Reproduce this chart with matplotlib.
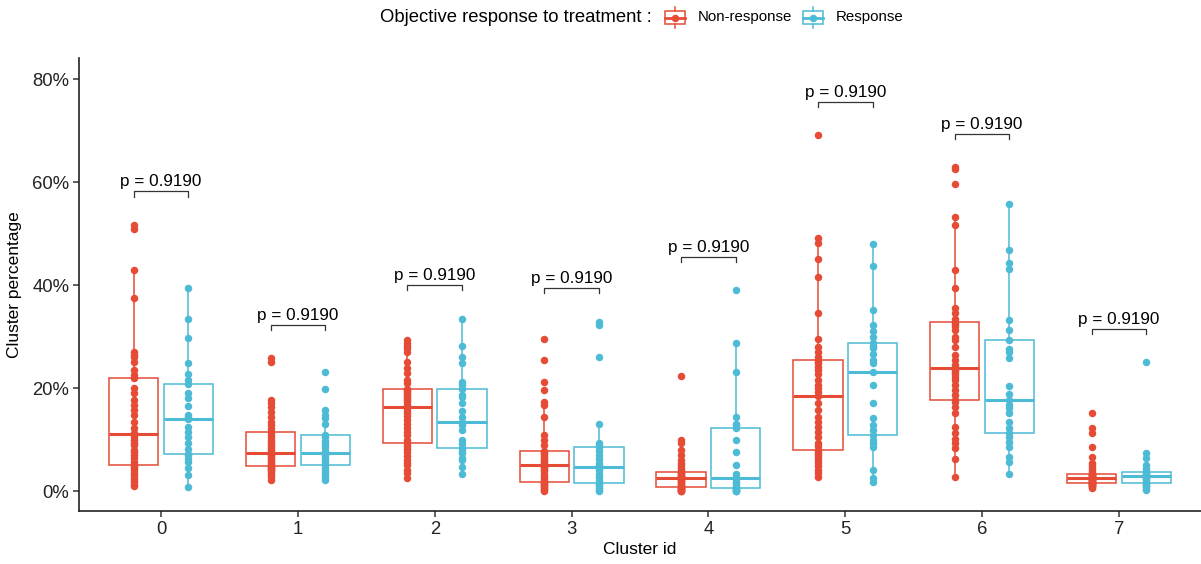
import numpy as np
import matplotlib
matplotlib.use("Agg")
import matplotlib.pyplot as plt
from matplotlib.patches import Rectangle
from matplotlib.ticker import FuncFormatter

plt.rcParams['font.family'] = ['Liberation Sans', 'DejaVu Sans']

clusters = ["0", "1", "2", "3", "4", "5", "6", "7"]
groups = ["Non-response", "Response"]
colors = ["#E64B35", "#4DBBD5"]
p_values = ["0.9190"] * 8

# cluster percentages (%) per patient, non-response group
nonresp = [
    [1.0, 1.2, 1.8, 2.1, 2.6, 3.1, 3.5, 4.1, 4.5, 4.8, 5.0, 5.7, 6.5, 7.0, 7.5, 8.0, 8.9, 9.4, 9.9, 10.5, 11.0,
     11.3, 12.2, 13.5, 14.8, 15.7, 16.7, 17.7, 19.0, 20.0, 21.9, 22.5, 23.5, 25.1, 26.0, 26.4, 27.0, 37.5, 42.9, 50.8, 51.7],
    [2.1, 2.8, 3.2, 3.5, 3.8, 4.0, 4.2, 4.4, 4.6, 4.8, 4.9, 5.2, 5.5, 5.8, 6.1, 6.4, 6.7, 6.9, 7.1, 7.2, 7.3,
     7.6, 8.0, 8.4, 8.8, 9.2, 9.6, 10.0, 10.5, 11.0, 11.4, 12.0, 12.8, 13.5, 14.4, 15.4, 16.4, 17.0, 17.6, 25.1, 25.8],
    [2.5, 3.5, 4.1, 5.0, 5.5, 6.0, 6.8, 7.6, 8.2, 8.8, 9.3, 10.0, 10.8, 11.5, 12.2, 13.0, 13.8, 14.5, 15.2, 15.8, 16.4,
     16.8, 17.2, 17.6, 18.0, 18.4, 18.8, 19.1, 19.4, 19.7, 19.9, 21.0, 21.6, 22.9, 23.9, 25.1, 27.0, 27.8, 28.2, 28.7, 29.3],
    [0.1, 0.2, 0.4, 0.6, 0.8, 1.0, 1.2, 1.4, 1.5, 1.7, 1.8, 2.2, 2.6, 3.0, 3.4, 3.8, 4.1, 4.4, 4.6, 4.8, 5.0,
     5.3, 5.6, 5.9, 6.2, 6.5, 6.8, 7.1, 7.4, 7.6, 7.8, 8.9, 9.9, 10.9, 14.4, 16.7, 17.3, 19.6, 21.2, 25.4, 29.6],
    [0.0, 0.05, 0.1, 0.15, 0.2, 0.3, 0.4, 0.5, 0.6, 0.7, 0.8, 1.0, 1.2, 1.4, 1.6, 1.8, 2.0, 2.2, 2.3, 2.4, 2.5,
     2.6, 2.7, 2.8, 2.9, 3.0, 3.1, 3.3, 3.5, 3.6, 3.7, 4.0, 4.5, 5.0, 5.5, 6.0, 7.0, 8.0, 9.3, 9.9, 22.3],
    [2.8, 3.5, 4.1, 4.8, 5.4, 6.0, 6.7, 7.0, 7.4, 7.8, 8.0, 8.8, 9.3, 10.5, 11.5, 12.5, 13.5, 14.4, 15.7, 17.0, 18.4,
     19.3, 20.0, 20.6, 21.5, 22.8, 23.5, 24.1, 24.8, 25.1, 25.4, 26.1, 27.0, 28.0, 29.6, 34.5, 41.6, 45.1, 48.1, 49.1, 69.1],
    [2.8, 6.3, 8.3, 9.3, 10.2, 11.2, 12.5, 15.1, 16.4, 17.2, 17.7, 18.6, 19.6, 20.5, 21.5, 22.2, 22.8, 23.2, 23.5, 23.7, 23.8,
     24.5, 25.4, 26.5, 28.0, 29.3, 30.0, 31.3, 32.0, 32.5, 32.9, 33.5, 34.5, 35.5, 39.4, 42.9, 51.7, 53.3, 59.7, 62.5, 62.9],
    [0.5, 0.7, 0.9, 1.0, 1.1, 1.2, 1.3, 1.4, 1.5, 1.55, 1.6, 1.7, 1.8, 1.9, 2.0, 2.1, 2.2, 2.3, 2.4, 2.45, 2.5,
     2.6, 2.7, 2.8, 2.9, 3.0, 3.1, 3.2, 3.3, 3.35, 3.4, 3.7, 4.0, 4.4, 5.0, 5.4, 6.7, 8.6, 11.3, 12.2, 15.2],
]

# cluster percentages (%) per patient, response group
resp = [
    [0.8, 3.1, 4.5, 5.7, 6.2, 7.0, 7.2, 8.2, 9.3, 10.5, 11.5, 12.5, 14.0, 14.4, 14.8, 16.6, 18.0, 19.0, 20.8,
     21.5, 22.7, 24.9, 29.8, 33.4, 39.5],
    [2.1, 2.5, 3.0, 3.5, 4.0, 4.5, 5.0, 5.5, 6.0, 6.5, 6.9, 7.1, 7.3, 7.8, 8.5, 9.2, 9.8, 10.4, 10.9,
     13.1, 14.1, 14.8, 15.7, 19.9, 23.2],
    [3.4, 4.7, 6.0, 6.5, 7.3, 7.8, 8.3, 9.2, 9.9, 11.8, 12.8, 13.2, 13.5, 14.4, 15.5, 17.0, 18.2, 18.6, 19.9,
     20.5, 21.2, 24.9, 26.0, 28.2, 33.5],
    [0.1, 0.2, 0.5, 0.8, 1.1, 1.4, 1.6, 2.2, 2.8, 3.4, 4.1, 4.4, 4.6, 5.0, 5.4, 6.2, 7.0, 7.8, 8.6,
     8.9, 9.3, 13.1, 26.1, 32.3, 32.9],
    [0.0, 0.05, 0.1, 0.2, 0.3, 0.4, 0.5, 0.8, 1.2, 1.6, 2.0, 2.3, 2.5, 2.8, 3.4, 5.0, 7.6, 10.0, 12.2,
     12.8, 13.1, 14.4, 23.2, 28.8, 39.0],
    [1.8, 2.5, 4.1, 8.5, 9.3, 9.9, 10.9, 11.8, 12.8, 14.1, 17.1, 20.5, 23.2, 24.8, 25.5, 26.7, 27.7, 28.2, 28.7,
     30.0, 31.0, 32.2, 35.1, 43.7, 48.0],
    [3.4, 5.7, 6.7, 8.6, 9.5, 10.5, 11.2, 12.2, 13.5, 15.1, 16.2, 16.7, 17.7, 18.8, 20.4, 25.8, 27.0, 27.5, 29.3,
     31.3, 33.3, 43.2, 44.2, 46.9, 55.7],
    [0.2, 0.4, 0.7, 1.0, 1.2, 1.4, 1.5, 1.8, 2.1, 2.3, 2.5, 2.7, 2.9, 3.0, 3.1, 3.2, 3.4, 3.5, 3.6,
     4.0, 4.5, 5.0, 6.4, 7.3, 25.0],
]

W, H = 1201, 564
fig = plt.figure(figsize=(W / 100, H / 100), dpi=100)
ax = fig.add_axes([79 / W, 53 / H, (W - 79) / W, (511 - 58) / H])

dodge = 0.2
bw = 0.36
x = np.arange(len(clusters))
for gi, (data, col) in enumerate(zip([nonresp, resp], colors)):
    pos = x + (-dodge if gi == 0 else dodge)
    ax.boxplot(data, positions=pos, widths=bw, showfliers=False, manage_ticks=False,
               patch_artist=True, whis=1.5,
               boxprops=dict(facecolor='none', edgecolor=col, linewidth=1.1),
               whiskerprops=dict(color=col, linewidth=1.1),
               capprops=dict(linewidth=0),
               medianprops=dict(color=col, linewidth=2.2),
               zorder=2)
    for p, vals in zip(pos, data):
        ax.plot(np.full(len(vals), p), vals, 'o', color=col, markersize=5.4,
                markeredgewidth=0, zorder=3)

# significance brackets
for i, pv in enumerate(p_values):
    top = max(max(nonresp[i]), max(resp[i])) + 6.5
    x0, x1 = i - dodge, i + dodge
    ax.plot([x0, x0, x1, x1], [top - 1.0, top, top, top - 1.0], color='#333333',
            linewidth=0.9, zorder=4)
    ax.text(i, top + 0.4, f"p = {pv}", ha='center', va='bottom', fontsize=12.3, color='black')

ax.set_xlim(-0.6, 7.6)
ax.set_ylim(-3.88, 84.1)
ax.set_xticks(x)
ax.set_xticklabels(clusters)
ax.set_yticks([0, 20, 40, 60, 80])
ax.yaxis.set_major_formatter(FuncFormatter(lambda v, _: f"{v:.0f}%"))
ax.tick_params(axis='both', labelsize=13.3, length=4, width=1.1, color='#333333',
               labelcolor='#222222', pad=3)
for s in ['top', 'right']:
    ax.spines[s].set_visible(False)
for s in ['left', 'bottom']:
    ax.spines[s].set_linewidth(1.2)
    ax.spines[s].set_color('#222222')
ax.set_xlabel("Cluster id", fontsize=12.5, labelpad=3)
ax.set_ylabel("Cluster percentage", fontsize=12.5, labelpad=7)

# legend in pixel coordinates
lax = fig.add_axes([0, 0, 1, 1], zorder=10)
lax.set_xlim(0, W)
lax.set_ylim(H, 0)
lax.axis('off')
lax.text(380, 17, "Objective response to treatment :", fontsize=13.3, va='center', ha='left')
for cx, tx, col, lab in [(675, 698, colors[0], groups[0]), (813, 836, colors[1], groups[1])]:
    lax.add_patch(Rectangle((cx - 10, 11), 20, 13, facecolor='none', edgecolor=col, linewidth=1.1))
    lax.plot([cx, cx], [7, 11], color=col, linewidth=1.1)
    lax.plot([cx, cx], [24, 28], color=col, linewidth=1.1)
    lax.plot([cx - 10, cx + 10], [17.5, 17.5], color=col, linewidth=2.0)
    lax.plot([cx], [17.5], 'o', color=col, markersize=5.4, markeredgewidth=0)
    lax.text(tx, 17, lab, fontsize=10.8, va='center', ha='left')

fig.savefig("out.png", dpi=100)
